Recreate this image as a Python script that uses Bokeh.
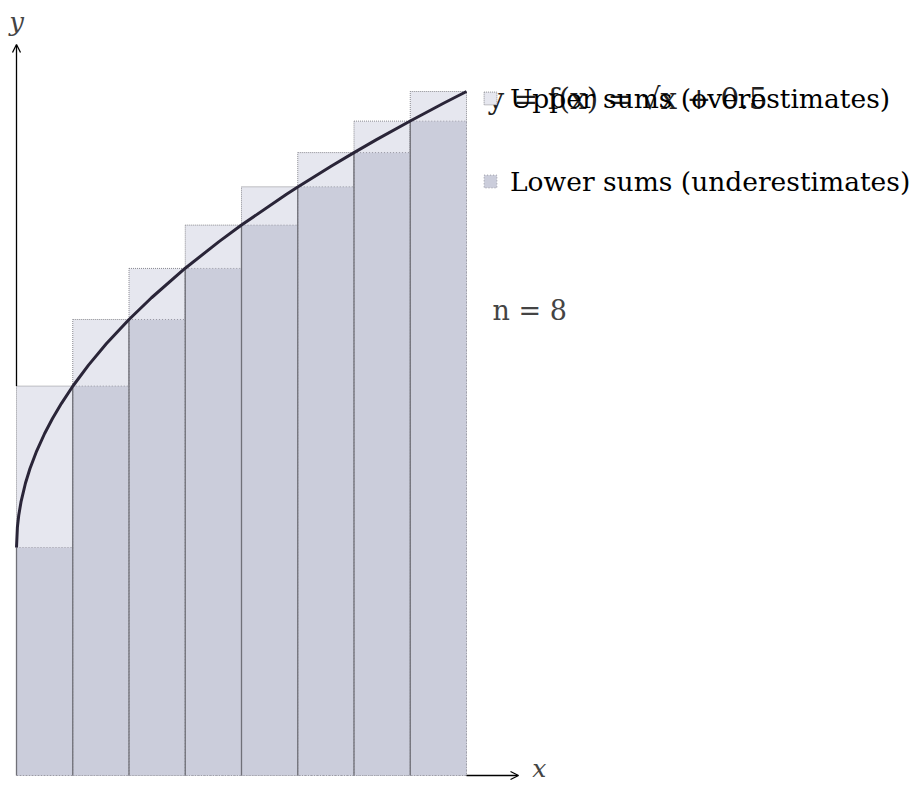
from bokeh.plotting import figure
from bokeh.models import Arrow, OpenHead, Label, Legend, LegendItem, Range1d
from bokeh.embed import file_html
from bokeh.resources import INLINE

# ---- data ----
left_edges = [0.0, 0.125, 0.25, 0.375, 0.5, 0.625, 0.75, 0.875]
right_edges = [0.125, 0.25, 0.375, 0.5, 0.625, 0.75, 0.875, 1.0]
lower_sums = [0.5, 0.854, 1.0, 1.112, 1.207, 1.291, 1.366, 1.435]
upper_sums = [0.854, 1.0, 1.112, 1.207, 1.291, 1.366, 1.435, 1.5]
curve_x = [0.0, 0.002, 0.005, 0.01, 0.02, 0.03, 0.045, 0.0625, 0.08, 0.1, 0.125,
           0.16, 0.2, 0.25, 0.3, 0.375, 0.45, 0.5, 0.6, 0.625, 0.7, 0.75, 0.8,
           0.875, 0.95, 1.0]
curve_y = [0.5, 0.5447, 0.5707, 0.6, 0.6414, 0.6732, 0.7121, 0.75, 0.7828, 0.8162,
           0.8536, 0.9, 0.9472, 1.0, 1.0477, 1.1124, 1.1708, 1.2071, 1.2746, 1.2906,
           1.3367, 1.366, 1.3944, 1.4354, 1.4747, 1.5]
legend_labels = ["Upper sums (overestimates)", "Lower sums (underestimates)"]
formula_text = "y = f(x) = √x + 0.5"
n_text = "n = 8"

SERIF = "DejaVu Serif"

p = figure(width=918, height=785, output_backend="svg", toolbar_location=None,
           x_range=Range1d(-0.035556, 2.004444), y_range=Range1d(-0.02193, 1.699561),
           min_border=0, outline_line_color=None, background_fill_color="white")
p.axis.visible = False
p.grid.visible = False

upper_r = p.quad(left=left_edges, right=right_edges, bottom=0, top=upper_sums,
                 fill_color="#e6e7ef", line_color="#8a8a90", line_dash="1 1", line_width=1)
lower_r = p.quad(left=left_edges, right=right_edges, bottom=0, top=lower_sums,
                 fill_color="#cbcddb", line_color="#9a9aa4", line_dash="1 2", line_width=1)
p.segment(x0=left_edges, y0=0, x1=left_edges, y1=lower_sums,
          line_color="#707078", line_width=1.3)
p.line(curve_x, curve_y, line_color="#2a2538", line_width=3)

# axes arrows
p.add_layout(Arrow(x_start=0, y_start=0.854, x_end=0, y_end=1.603,
                   line_color="black", line_width=1.3,
                   end=OpenHead(size=8, line_width=1.3, line_color="black")))
p.add_layout(Arrow(x_start=1.0, y_start=0, x_end=1.1156, y_end=0,
                   line_color="black", line_width=1.3,
                   end=OpenHead(size=8, line_width=1.3, line_color="black")))

p.add_layout(Label(x=0.0, y=1.653, text="y", text_font=SERIF, text_font_style="italic",
                   text_font_size="26px", text_align="center", text_baseline="alphabetic"))
p.add_layout(Label(x=1.162, y=-0.0175, text="x", text_font=SERIF, text_font_style="italic",
                   text_font_size="25px", text_align="center", text_baseline="bottom"))

legend = Legend(items=[LegendItem(label=legend_labels[0], renderers=[upper_r]),
                       LegendItem(label=legend_labels[1], renderers=[lower_r])],
                location=(482, 588), orientation="vertical",
                border_line_color=None, background_fill_alpha=0,
                padding=0, margin=0, spacing=51,
                glyph_width=16, glyph_height=16, label_height=32,
                label_standoff=12, label_text_font=SERIF, label_text_font_size="26.5px",
                label_text_color="black")
p.add_layout(legend)

p.add_layout(Label(x=1.0467, y=1.4846, text=formula_text, text_font=SERIF,
                   text_font_size="29.5px", text_baseline="alphabetic", text_color="#222"))
p.add_layout(Label(x=1.0578, y=1.0197, text=n_text, text_font=SERIF,
                   text_font_size="27px", text_baseline="alphabetic"))

open("out.html", "w").write(file_html(p, INLINE))
